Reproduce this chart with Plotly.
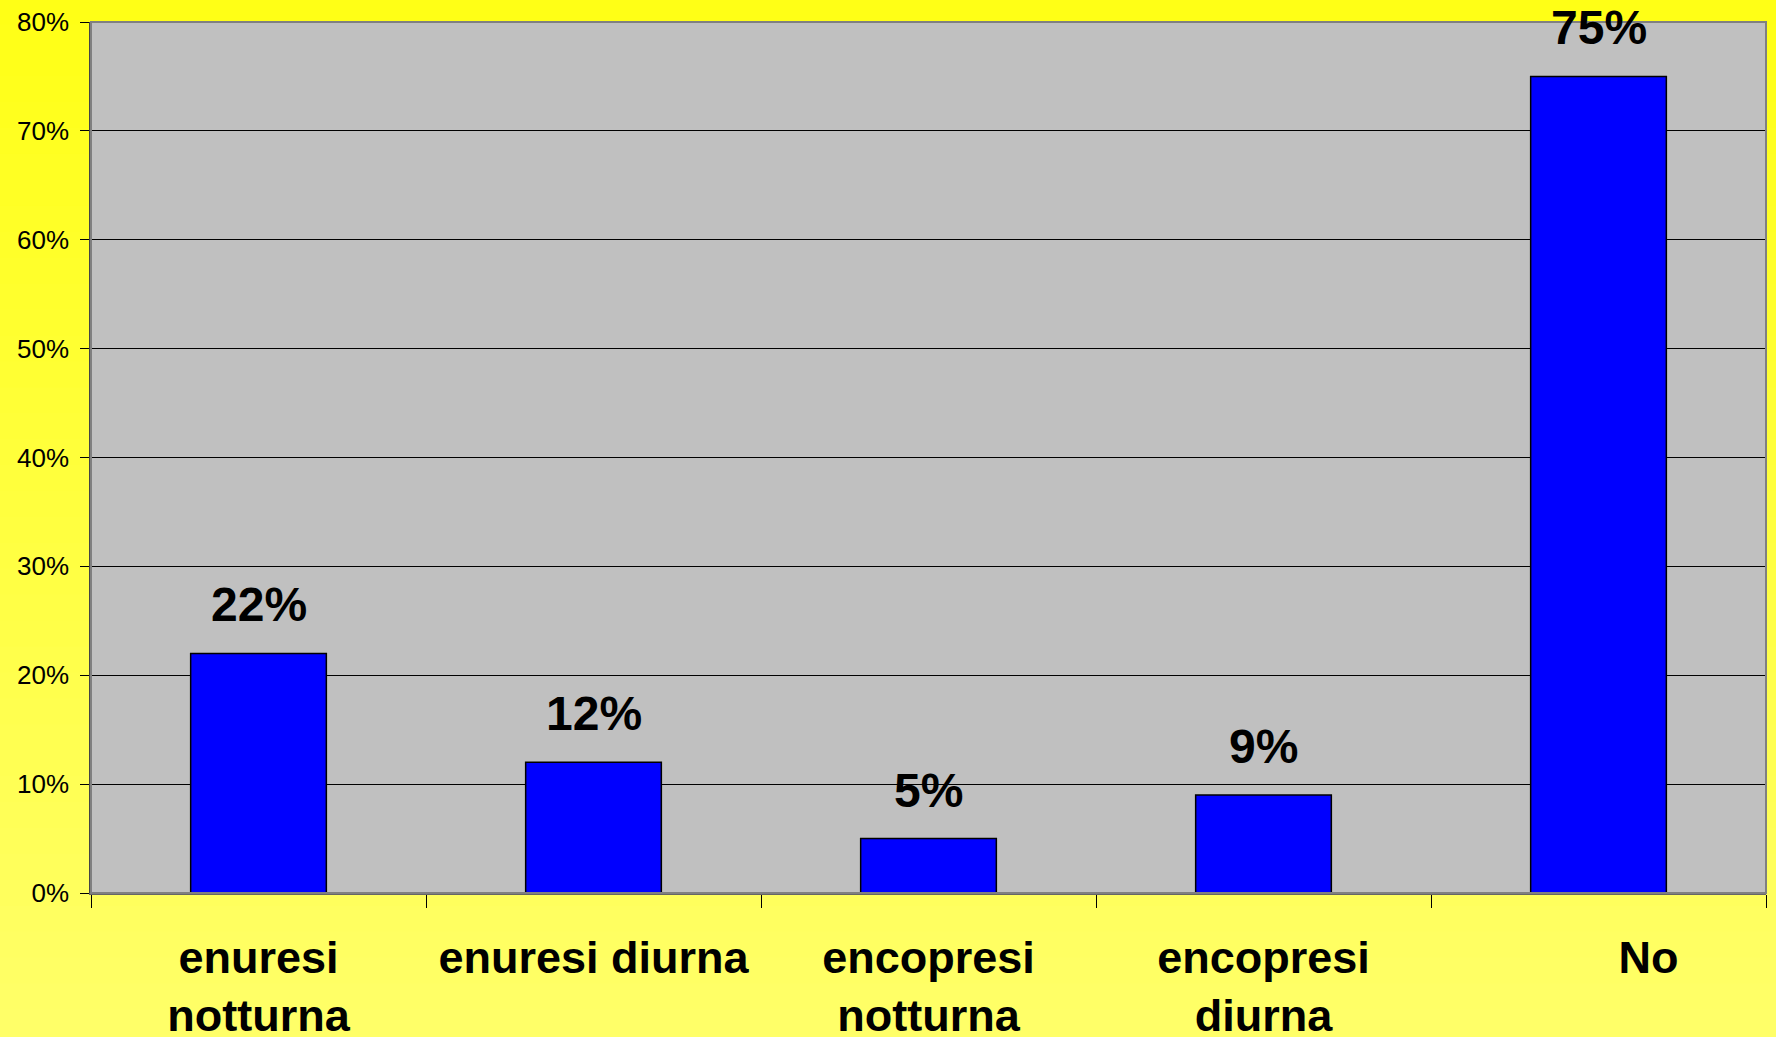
import plotly.graph_objects as go

# ---- data ----
categories = ["enuresi<br>notturna", "enuresi diurna", "encopresi<br>notturna", "encopresi<br>diurna", "No"]
tick_labels = ["enuresi<br>notturna", "enuresi diurna", "encopresi<br>notturna", "encopresi<br>diurna",
               "\u00a0" * 8 + "No"]
values = [22, 12, 5, 9, 75]
value_labels = ["22%", "12%", "5%", "9%", "75%"]
y_tick_values = [0, 10, 20, 30, 40, 50, 60, 70, 80]
y_tick_labels = ["0%", "10%", "20%", "30%", "40%", "50%", "60%", "70%", "80%"]

W, H = 1776, 1037
ML, MR, MT, MB = 91, 10, 22, 144

fig = go.Figure()
fig.add_trace(go.Bar(
    x=categories, y=values,
    marker=dict(color="#0000FF", line=dict(color="black", width=1.5)),
    width=0.405,
    hoverinfo="skip",
))

# value labels above bars
for c, v, t in zip(categories, values, value_labels):
    fig.add_annotation(x=c, y=v, text=t, showarrow=False, yanchor="bottom", yshift=20,
                       font=dict(family="Liberation Sans, Arial", size=48, color="black", weight="bold"))

# yellow vertical gradient background (paper coords relative to plot area)
pw, ph = W - ML - MR, H - MT - MB
top_p = 1 + MT / ph
bot_p = -MB / ph
left_p = -ML / pw
right_p = 1 + MR / pw
N = 40
c_top = (255, 255, 22)
c_bot = (255, 255, 104)
shapes = []
for i in range(N):
    f = i / (N - 1)
    col = tuple(round(a + (b - a) * f) for a, b in zip(c_top, c_bot))
    y1 = top_p - (top_p - bot_p) * i / N + 0.002
    y0 = top_p - (top_p - bot_p) * (i + 1) / N - 0.002
    shapes.append(dict(type="rect", xref="paper", yref="paper", x0=left_p - 0.01, x1=right_p + 0.01,
                       y0=y0, y1=y1, fillcolor="rgb(%d,%d,%d)" % col, line=dict(width=0), layer="below"))
shapes.append(dict(type="rect", xref="paper", yref="paper", x0=0, x1=1, y0=0, y1=1,
                   fillcolor="#C0C0C0", line=dict(width=0), layer="below"))
fig.update_layout(shapes=shapes)

fig.update_layout(
    width=W, height=H,
    margin=dict(l=ML, r=MR, t=MT, b=MB, pad=0, autoexpand=False),
    paper_bgcolor="#FFFF40",
    plot_bgcolor="#C0C0C0",
    showlegend=False,
    font=dict(family="Liberation Sans, Arial", color="black"),
)
fig.update_xaxes(
    type="category", automargin=False,
    tickvals=categories, ticktext=tick_labels,
    tickson="boundaries", ticks="outside", ticklen=13, tickwidth=1, tickcolor="black",
    tickfont=dict(size=45, weight="bold", color="black"),
    showline=True, linecolor="#666666", linewidth=1.5, mirror=False,
    showgrid=False, zeroline=False, ticklabelstandoff=24,
)
fig.update_yaxes(
    range=[0, 80], tickvals=y_tick_values, ticktext=y_tick_labels, automargin=False,
    ticks="outside", ticklen=9, tickwidth=1, tickcolor="black",
    tickfont=dict(size=26, color="black"),
    showline=True, linecolor="#444444", linewidth=1.5,
    showgrid=True, gridcolor="black", gridwidth=1,
    zeroline=False, ticklabelstandoff=6,
)
# top/right border of plot area
fig.add_shape(type="rect", xref="paper", yref="paper", x0=0, x1=1, y0=0, y1=1,
              line=dict(color="#808080", width=2), fillcolor="rgba(0,0,0,0)", layer="above")

fig.write_html("out.html", config={"displayModeBar": False},
               post_script="document.body.style.margin='0px';")
